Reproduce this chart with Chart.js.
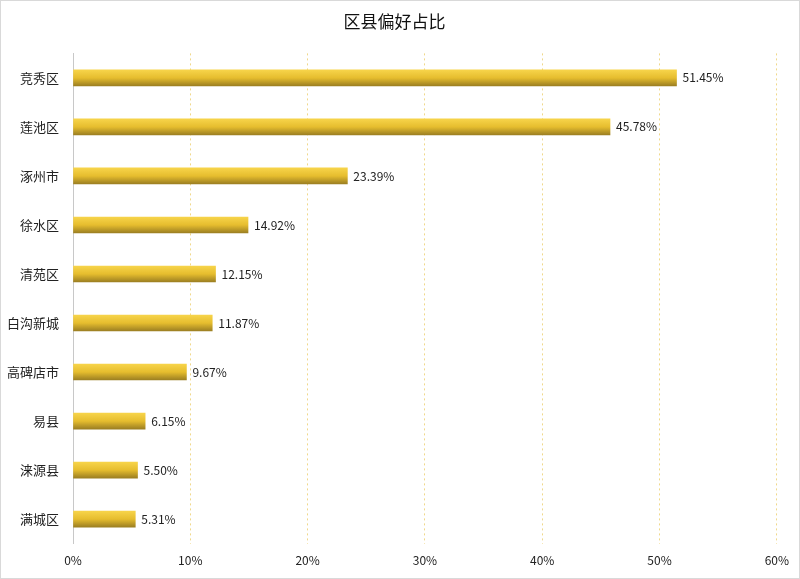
<!DOCTYPE html>
<html>
<head>
<meta charset="utf-8">
<script src="https://cdn.jsdelivr.net/npm/chart.js@4"></script>
<style>
  body { margin: 0; background: #fff; }
  #wrap { width: 798px; height: 577px; border: 1px solid #d9d9d9; }
</style>
</head>
<body>
<div id="wrap"><canvas id="barChart" width="798" height="577"></canvas></div>
<script>
// 区县偏好占比
const districts = ['竞秀区', '莲池区', '涿州市', '徐水区', '清苑区', '白沟新城', '高碑店市', '易县', '涞源县', '满城区'];
const shares = [51.45, 45.78, 23.39, 14.92, 12.15, 11.87, 9.67, 6.15, 5.50, 5.31];
const tickValues = [0, 10, 20, 30, 40, 50, 60];

const FONT = "'Microsoft YaHei', 'Noto Sans CJK SC', sans-serif";
const BAR_H = 16;

// 每根柱子竖向渐变
function barGradient(context) {
    const chart = context.chart;
    const y = chart.scales.y;
    if (!y || context.dataIndex === undefined) return '#e6bd2e';
    const mid = y.getPixelForValue(context.dataIndex);
    if (!isFinite(mid)) return '#e6bd2e';
    const top = mid - BAR_H / 2;
    const g = chart.ctx.createLinearGradient(0, top, 0, top + BAR_H);
    g.addColorStop(0, '#f7d44a');
    g.addColorStop(0.5, '#e6bd2e');
    g.addColorStop(1, '#9c7f22');
    return g;
}

// 数值标签
const valueLabels = {
    id: 'valueLabels',
    afterDatasetsDraw(chart) {
        const c = chart.ctx;
        c.save();
        c.font = '12px ' + FONT;
        c.fillStyle = '#222';
        c.textBaseline = 'middle';
        chart.getDatasetMeta(0).data.forEach((bar, i) => {
            c.fillText(shares[i].toFixed(2) + '%', bar.x + 6, bar.y);
        });
        c.restore();
    }
};

new Chart(document.getElementById('barChart'), {
    type: 'bar',
    data: {
        labels: districts,
        datasets: [{
            data: shares,
            backgroundColor: barGradient,
            barThickness: BAR_H
        }]
    },
    options: {
        indexAxis: 'y',
        responsive: false,
        animation: false,
        layout: { padding: { left: 0, right: 11, top: 0, bottom: 0 } },
        plugins: {
            legend: { display: false },
            tooltip: { enabled: false },
            title: {
                display: true,
                text: '区县偏好占比',
                color: '#111',
                font: { family: FONT, size: 17, weight: 'normal' },
                padding: { top: 10, bottom: 22 }
            }
        },
        scales: {
            x: {
                min: 0,
                max: 60,
                afterBuildTicks(axis) { axis.ticks = tickValues.map(v => ({ value: v })); },
                grid: {
                    color: 'rgba(230, 190, 60, 0.6)',
                    drawTicks: false
                },
                border: { display: false, dash: [2, 3] },
                ticks: {
                    color: '#222',
                    padding: 10,
                    font: { family: FONT, size: 12 },
                    callback: v => v + '%'
                }
            },
            y: {
                grid: { display: false },
                border: { color: '#c8c8c8' },
                ticks: {
                    color: '#222',
                    padding: 6,
                    font: { family: FONT, size: 13 }
                }
            }
        }
    },
    plugins: [valueLabels]
});
</script>
</body>
</html>
